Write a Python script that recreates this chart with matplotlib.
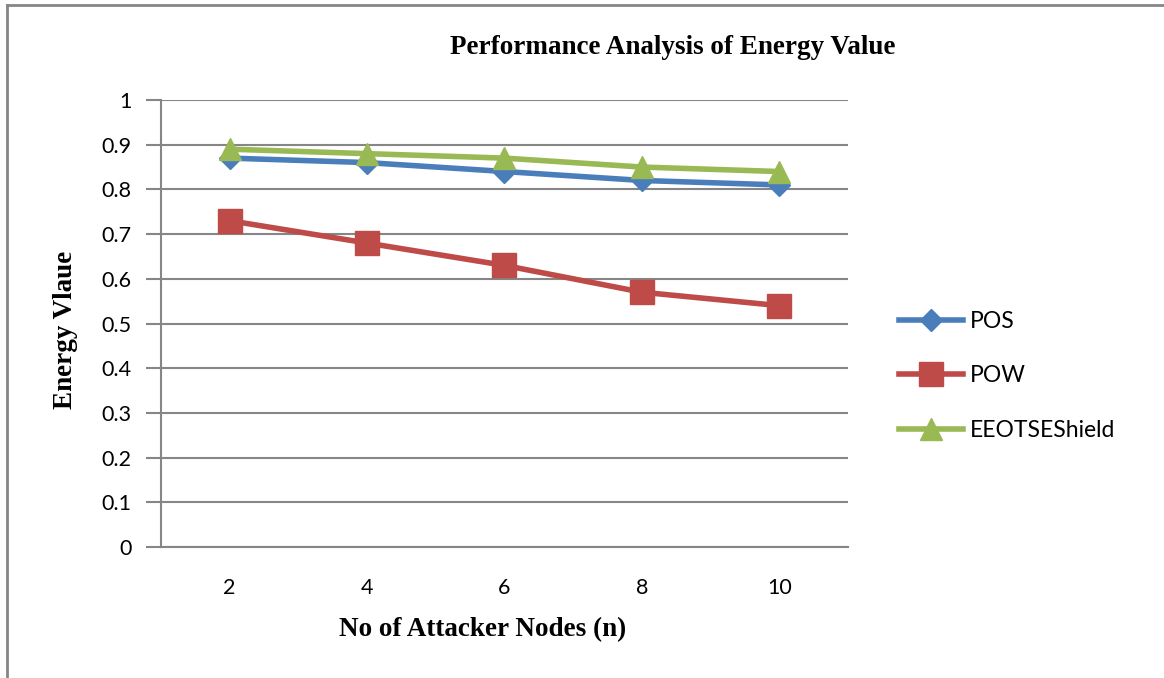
import matplotlib
matplotlib.use("Agg")
import matplotlib.pyplot as plt
from matplotlib.lines import Line2D

categories = ["2", "4", "6", "8", "10"]
pos = [0.87, 0.86, 0.84, 0.82, 0.81]
pow_ = [0.73, 0.68, 0.63, 0.57, 0.54]
eeot = [0.89, 0.88, 0.87, 0.85, 0.84]
series_names = ["POS", "POW", "EEOTSEShield"]
yticks = [0, 0.1, 0.2, 0.3, 0.4, 0.5, 0.6, 0.7, 0.8, 0.9, 1]

fig = plt.figure(figsize=(11.64, 6.78), dpi=100)
ax = fig.add_axes([0.1383, 0.1932, 0.5902, 0.6593])

tickfont = ["Lato", "DejaVu Sans"]
serif = ["Liberation Serif", "DejaVu Serif"]

x = list(range(len(categories)))
ax.plot(x, pos, color="#4a7ebb", lw=4, marker="D", ms=11, label=series_names[0], zorder=3)
ax.plot(x, pow_, color="#be4b48", lw=4, marker="s", ms=17, label=series_names[1], zorder=3)
ax.plot(x, eeot, color="#98b954", lw=4, marker="^", ms=16, label=series_names[2], zorder=4)

ax.set_xlim(-0.5, 4.5)
ax.set_ylim(0, 1)
ax.set_yticks(yticks)
ax.set_yticklabels([f"{v:g}" for v in yticks], fontfamily=tickfont, fontsize=15.5)
ax.set_xticks(x)
ax.set_xticklabels(categories, fontfamily=tickfont, fontsize=15.5)
ax.yaxis.grid(True, color="#868686", lw=1.5)
ax.set_axisbelow(True)
for s in ["top", "right"]:
    ax.spines[s].set_visible(False)
ax.spines["left"].set_color("#868686")
ax.spines["left"].set_linewidth(1.5)
ax.spines["bottom"].set_color("#868686")
ax.spines["bottom"].set_linewidth(1.5)
ax.tick_params(axis="y", length=11, width=1.5, color="#868686", pad=10)
ax.tick_params(axis="x", length=0, pad=22)

fig.text(673/1164, 1-47/678, "Performance Analysis of Energy Value", ha="center", va="center",
         fontfamily=serif, fontweight="bold", fontsize=19.5)
fig.text(66/1164, 1-330/678, "Energy Vlaue", rotation=90, ha="center", va="center",
         fontfamily=serif, fontweight="bold", fontsize=19.5)
fig.text(483/1164, 1-630/678, "No of Attacker Nodes (n)", ha="center", va="center",
         fontfamily=serif, fontweight="bold", fontsize=19.5)

leg = ax.legend(loc="center left", bbox_to_anchor=(878/1164, 1-376/678), bbox_transform=fig.transFigure,
                frameon=False, prop={"family": tickfont, "size": 16.5}, handlelength=2.8,
                labelspacing=1.45, handletextpad=0.3)

# outer chart border (top and left)
fig.add_artist(Line2D([7/1164, 1], [1-5/678, 1-5/678], color="#868686", lw=2, transform=fig.transFigure))
fig.add_artist(Line2D([7/1164, 7/1164], [0, 1-5/678], color="#868686", lw=2, transform=fig.transFigure))

fig.savefig("out.png", dpi=100)
